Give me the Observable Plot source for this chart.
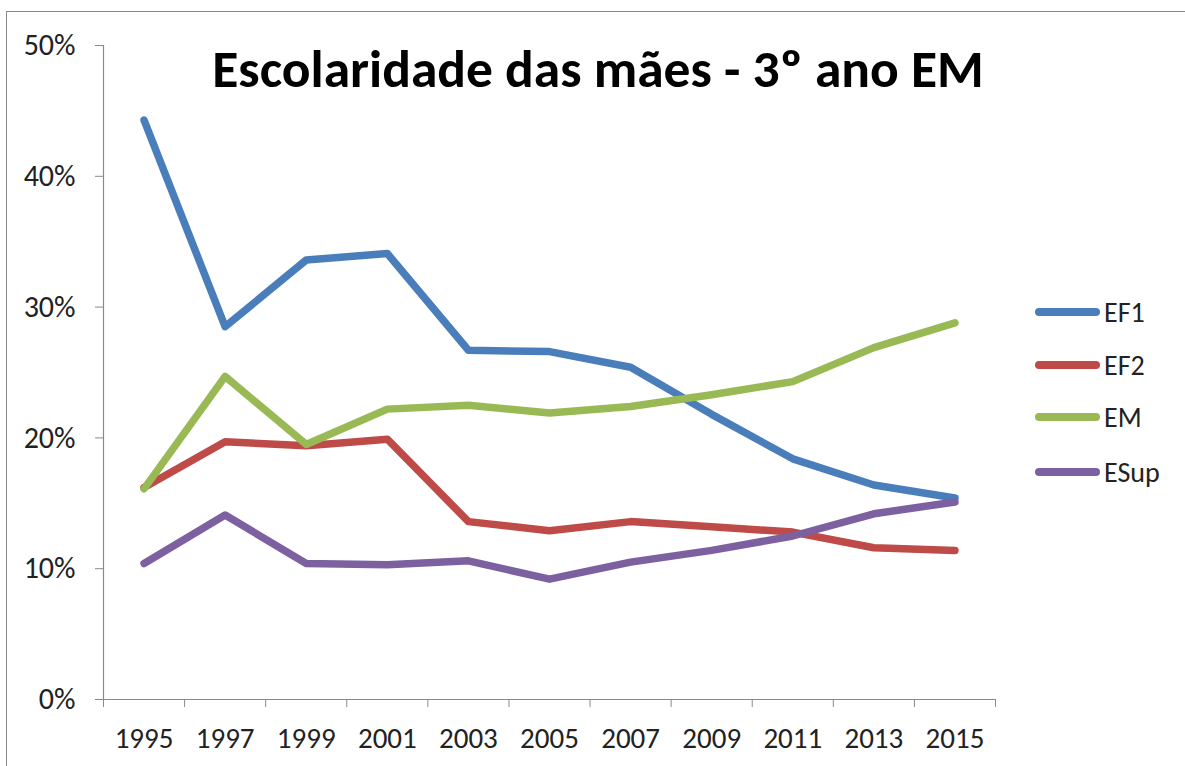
<!DOCTYPE html>
<html><head><meta charset="utf-8">
<script src="https://cdn.jsdelivr.net/npm/d3@7"></script>
<script src="https://cdn.jsdelivr.net/npm/@observablehq/plot@0.6"></script>
<style>
body{margin:0;background:#fff;font-family:Carlito,Lato,sans-serif;}
#wrap{position:relative;width:1185px;height:766px;overflow:hidden;background:#fff;}
#frame{position:absolute;left:6px;top:11px;width:1400px;height:1000px;border:1.5px solid #8a8a8a;pointer-events:none;}
#title{position:absolute;left:100px;top:42px;width:996px;text-align:center;font-size:53.5px;line-height:53.5px;font-weight:bold;color:#000;white-space:nowrap;}
#chart{position:absolute;left:0;top:0;}
.leg{position:absolute;left:1035px;display:flex;align-items:center;font-size:28px;color:#222;}
.leg span.sw{display:inline-block;width:65px;height:8px;border-radius:4px;margin-right:4px;}
</style>
</head><body>
<div id="wrap">
  <div id="chart"></div>
  <div id="frame"></div>
  <div id="title">Escolaridade das mães - 3º ano EM</div>
  <div id="legend"></div>
</div>
<script>
const years = [1995, 1997, 1999, 2001, 2003, 2005, 2007, 2009, 2011, 2013, 2015];
const seriesNames = ["EF1", "EF2", "EM", "ESup"];
const ef1  = [44.3, 28.5, 33.6, 34.1, 26.7, 26.6, 25.4, 21.8, 18.4, 16.4, 15.4];
const ef2  = [16.2, 19.7, 19.4, 19.9, 13.6, 12.9, 13.6, 13.2, 12.8, 11.6, 11.4];
const em   = [16.1, 24.7, 19.5, 22.2, 22.5, 21.9, 22.4, 23.3, 24.3, 26.9, 28.8];
const esup = [10.4, 14.1, 10.4, 10.3, 10.6, 9.2, 10.5, 11.4, 12.5, 14.2, 15.1];
const yTicks = [0, 10, 20, 30, 40, 50];
const colors = ["#4A7EBB", "#BE4B48", "#98B954", "#7D60A0"];

const valuesBySeries = [ef1, ef2, em, esup];
const data = [];
seriesNames.forEach((s, i) => years.forEach((y, j) => data.push({serie: s, year: y, value: valuesBySeries[i][j] / 100})));

const step = years[1] - years[0];
const boundaries = [years[0] - step / 2, ...years.map(y => y + step / 2)];

const chart = Plot.plot({
  width: 1185,
  height: 766,
  marginLeft: 103,
  marginRight: 190,
  marginTop: 45,
  marginBottom: 67,
  style: {fontFamily: "Carlito, Lato, sans-serif", fontSize: "28px", color: "#222", background: "transparent"},
  x: {domain: [boundaries[0], boundaries[boundaries.length - 1]]},
  y: {domain: [0, 0.5]},
  color: {domain: seriesNames, range: colors},
  marks: [
    Plot.axisY({ticks: yTicks.map(t => t / 100), tickSize: 8, tickPadding: 20, tickFormat: d => Math.round(d * 100) + "%", stroke: "#8a8a8a", label: null, fontSize: 30}),
    Plot.axisX({ticks: boundaries, tickSize: 8, tickFormat: () => "", stroke: "#8a8a8a", label: null}),
    Plot.axisX({ticks: years, tickSize: 0, tickPadding: 28, tickFormat: d => String(d), label: null, fontSize: 29}),
    Plot.ruleX([boundaries[0]], {stroke: "#8a8a8a", strokeWidth: 1.2}),
    Plot.ruleY([0], {stroke: "#8a8a8a", strokeWidth: 1.2}),
    Plot.line(data, {x: "year", y: "value", z: "serie", stroke: "serie", strokeWidth: 7.5, strokeLinecap: "round", strokeLinejoin: "round"})
  ]
});
document.getElementById("chart").appendChild(chart);

const legendTops = [312, 365, 417, 472];
const legend = document.getElementById("legend");
seriesNames.forEach((s, i) => {
  const d = document.createElement("div");
  d.className = "leg";
  d.style.top = (legendTops[i] - 18) + "px";
  d.style.height = "36px";
  d.innerHTML = `<span class="sw" style="background:${colors[i]}"></span>${s}`;
  legend.appendChild(d);
});
</script>
</body></html>
